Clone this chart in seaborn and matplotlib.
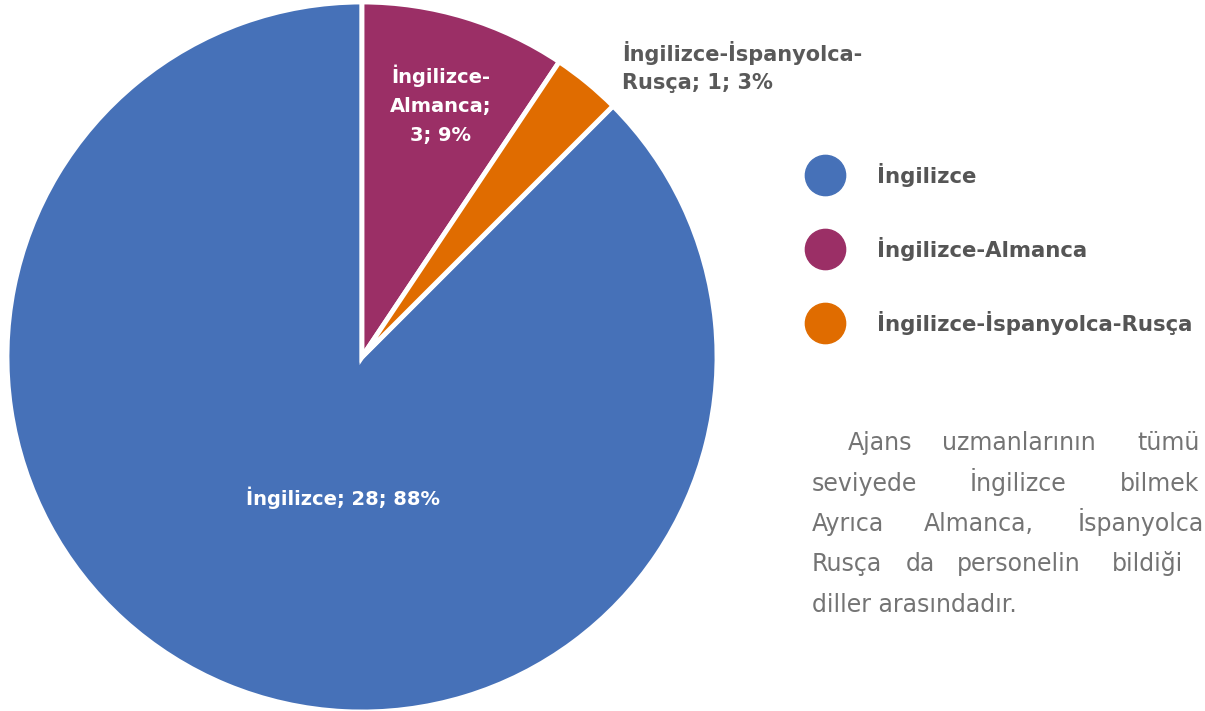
import matplotlib
matplotlib.use("Agg")
import matplotlib.pyplot as plt
import seaborn as sns
from matplotlib.lines import Line2D

categories = ["İngilizce", "İngilizce-Almanca", "İngilizce-İspanyolca-Rusça"]
counts = [28, 3, 1]
colors = ["#4671B8", "#9B2F66", "#E06C00"]

paragraph = [
    (450, [(848, "Ajans"), (942, "uzmanlarının"), (1137, "tümü")]),
    (491, [(812, "seviyede"), (970, "İngilizce"), (1120, "bilmek")]),
    (531, [(812, "Ayrıca"), (924, "Almanca,"), (1078, "İspanyolca")]),
    (571, [(812, "Rusça"), (906, "da"), (957, "personelin"), (1112, "bildiği")]),
    (612, [(812, "diller arasındadır.")]),
]

sns.set_theme(style="white")
plt.rcParams["font.family"] = ["DejaVu Sans"]

W, H = 1205, 711
fig = plt.figure(figsize=(W / 100, H / 100), dpi=100)


def fx(x):
    return x / W


def fy(y):
    return 1 - y / H


# pie: centre (362, 357), radius 355 px
cx, cy, r = 362, 357, 355
ax = fig.add_axes([fx(cx - r), fy(cy + r), 2 * r / W, 2 * r / H])
total = sum(counts)
ax.pie(counts, colors=colors, startangle=45, counterclock=False,
       radius=1, wedgeprops=dict(edgecolor="white", linewidth=3.5))
ax.set_xlim(-1, 1)
ax.set_ylim(-1, 1)
ax.axis("off")

pct = [round(100 * c / total) for c in counts]
lab_kw = dict(fontsize=14, fontweight="bold", ha="center", va="center")
fig.text(fx(343), fy(498), f"{categories[0]}; {counts[0]}; {pct[0]}%",
         color="white", **lab_kw)
fig.text(fx(441), fy(105), f"İngilizce-\nAlmanca;\n{counts[1]}; {pct[1]}%",
         color="white", linespacing=1.65, **lab_kw)
fig.text(fx(622), fy(67), f"İngilizce-İspanyolca-\nRusça; {counts[2]}; {pct[2]}%",
         color="#595959", fontsize=15, fontweight="bold", ha="left",
         va="center", linespacing=1.55)

handles = [Line2D([], [], marker="o", linestyle="", markersize=29,
                  markerfacecolor=c, markeredgecolor=c) for c in colors]
leg = fig.legend(handles, categories, loc="upper left",
                 bbox_to_anchor=(fx(793), fy(152)), frameon=False,
                 labelspacing=2.36, handletextpad=1.45, borderpad=0,
                 prop=dict(family="DejaVu Sans", weight="bold", size=15.3))
for t in leg.get_texts():
    t.set_color("#555555")

for yb, words in paragraph:
    for xw, w in words:
        fig.text(fx(xw), fy(yb), w, fontsize=17, fontweight="normal",
                 color="#747474", ha="left", va="baseline")

fig.savefig("out.png", dpi=100)
